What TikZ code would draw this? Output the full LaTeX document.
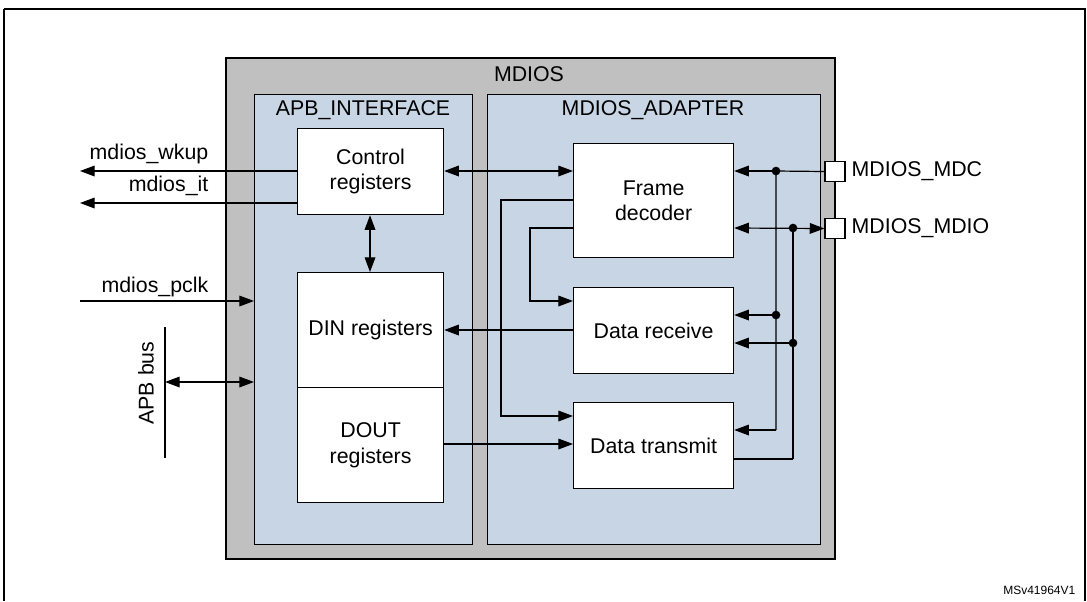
\documentclass[tikz,border=0pt]{standalone}
\usepackage{fontspec}
\setmainfont{Liberation Sans}
\usetikzlibrary{arrows.meta}
\definecolor{greyfill}{RGB}{192,192,192}
\definecolor{bluefill}{RGB}{200,213,229}
\begin{document}
\begin{tikzpicture}[x=0.75pt,y=-0.75pt,
  every node/.style={font=\fontsize{16}{19}\selectfont},
  box/.style={draw,line width=0.9pt,fill=white,align=center,inner sep=0},
  ln/.style={line width=0.9pt},
  arr/.style={ln,-{Triangle[length=11pt,width=8pt]}},
  darr/.style={ln,{Triangle[length=11pt,width=8pt]}-{Triangle[length=11pt,width=8pt]}},
  dot/.style={circle,fill,inner sep=0,minimum size=6.5pt},
  pad/.style={draw,line width=0.9pt,fill=white,minimum size=15pt,inner sep=0}]
\useasboundingbox (0,0) rectangle (1087,601);
\draw[line width=1.5pt] (4,9) -- (4,601) (4,9) -- (1085,9) -- (1085,601);
% MDIOS
\node[draw,line width=1.5pt,fill=greyfill,minimum width=609pt*0.75,minimum height=501pt*0.75,anchor=north west,inner sep=0] (mdios) at (225,57) {};
\node (mdiosl) at (529,74) {MDIOS};
\node[draw,line width=0.9pt,fill=bluefill,minimum width=218pt*0.75,minimum height=450pt*0.75,anchor=north west,inner sep=0] (apb) at (254,94) {};
\node (apbl) at (363,110) {APB\_INTERFACE};
\node[draw,line width=0.9pt,fill=bluefill,minimum width=333pt*0.75,minimum height=450pt*0.75,anchor=north west,inner sep=0] (adp) at (487,94) {};
\node (adpl) at (653,110) {MDIOS\_ADAPTER};
% boxes
\node[box,minimum width=146pt*0.75,minimum height=86pt*0.75,anchor=north west] (ctrl) at (297,128) {Control\\registers};
\node[box,minimum width=146pt*0.75,minimum height=115pt*0.75,anchor=north west] (din) at (297,272) {DIN registers};
\node[box,minimum width=146pt*0.75,minimum height=115pt*0.75,anchor=north west] (dout) at (297,387) {DOUT\\registers};
\node[box,minimum width=160pt*0.75,minimum height=114pt*0.75,anchor=north west] (fd) at (573,143) {Frame\\decoder};
\node[box,minimum width=160pt*0.75,minimum height=86pt*0.75,anchor=north west] (dr) at (573,287) {Data receive};
\node[box,minimum width=160pt*0.75,minimum height=86pt*0.75,anchor=north west] (dt) at (573,402) {Data transmit};
% pads
\node[pad] (mdc) at (835,171.5) {};
\node[pad] (mdio) at (835,228.5) {};
\node[anchor=west] (mdcl) at (847,171) {MDIOS\_MDC};
\node[anchor=west] (mdiol) at (847,228) {MDIOS\_MDIO};
% coordinates
\coordinate (d1) at (776,171);
\coordinate (d2) at (793,228);
\coordinate (d3) at (776,315);
\coordinate (d4) at (793,343);
\coordinate (c5) at (776,430);
\coordinate (c6) at (793,459);
\node[dot] at (d1) {};
\node[dot] at (d2) {};
\node[dot] at (d3) {};
\node[dot] at (d4) {};
\draw[ln] (mdc.west) -- (d1) -- (c5);
\draw[ln] (d2) -- (c6);
\draw[arr] (d1) -- (fd.east |- d1);
\draw[darr] (fd.east |- d2) -- (mdio.west);
\draw[arr] (d3) -- (dr.east |- d3);
\draw[arr] (d4) -- (dr.east |- d4);
\draw[arr] (c5) -- (dt.east |- c5);
\draw[ln] (dt.east |- c6) -- (c6);
% left of adapter
\draw[arr] (fd.west |- 0,200) -- (501,200) -- (501,416) -- (dt.west |- 0,416);
\draw[arr] (fd.west |- 0,228) -- (530,228) -- (530,301) -- (dr.west |- 0,301);
\draw[arr] (dr.west |- 0,330) -- (din.east |- 0,330);
\draw[arr] (dout.east |- 0,444) -- (dt.west |- 0,444);
\draw[darr] (ctrl.east |- 0,171) -- (fd.west |- 0,171);
\draw[darr] (ctrl.south -| 370,0) -- (din.north -| 370,0);
% external
\coordinate (wk) at (80,171);
\coordinate (it) at (80,203);
\coordinate (pc) at (80,301);
\draw[arr] (ctrl.west |- wk) -- (wk);
\draw[arr] (ctrl.west |- it) -- (it);
\draw[arr] (pc) -- (apb.west |- pc);
\node[anchor=east] (wkl) at (213,154) {mdios\_wkup};
\node[anchor=east] (itl) at (213,186) {mdios\_it};
\node[anchor=east] (pcl) at (213,287) {mdios\_pclk};
\coordinate (bt) at (165,327);
\coordinate (bb) at (165,458);
\draw[ln] (bt) -- (bb);
\draw[darr] (165,382) -- (apb.west |- 0,382);
\node[rotate=90] (apbbus) at (146,383) {APB bus};
\node[anchor=east,font=\fontsize{9}{11}\selectfont] (id) at (1080,590) {MSv41964V1};
\end{tikzpicture}
\end{document}
